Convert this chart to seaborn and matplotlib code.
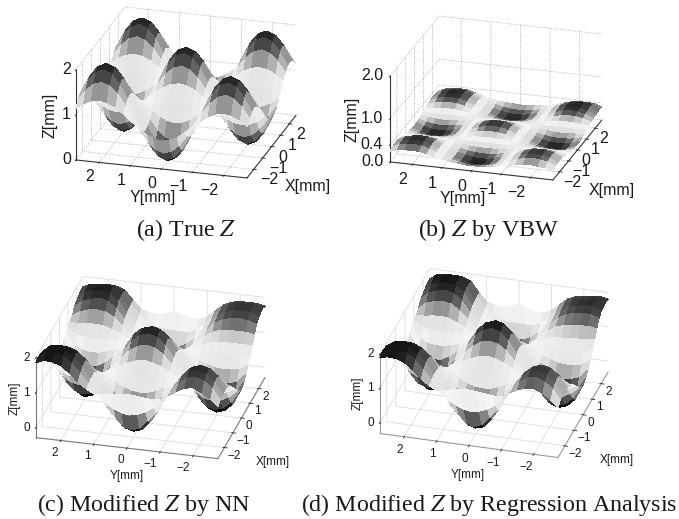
import numpy as np
import matplotlib
matplotlib.use('Agg')
import matplotlib.pyplot as plt
import seaborn as sns
from matplotlib.colors import Normalize
from matplotlib.ticker import NullFormatter
from matplotlib.transforms import offset_copy

sns.set_style('white')
plt.rcParams['font.family'] = ['Liberation Sans', 'DejaVu Sans']
plt.rcParams['mathtext.fontset'] = 'stix'

# grid positions [mm]
grid_mm = [-2.75, -2.5, -2.25, -2, -1.75, -1.5, -1.25, -1, -0.75, -0.5, -0.25, 0,
           0.25, 0.5, 0.75, 1, 1.25, 1.5, 1.75, 2, 2.25, 2.5, 2.75]
axis_ticks = [-2, -1, 0, 1, 2]

# heights, rows follow X, columns follow Y
z_true = [
[1.14,1.27,1.35,1.38,1.35,1.27,1.14,1,.86,.73,.65,.62,.65,.73,.86,1,1.14,1.27,1.35,1.38,1.35,1.27,1.14],
[1.27,1.5,1.65,1.71,1.65,1.5,1.27,1,.73,.5,.35,.29,.35,.5,.73,1,1.27,1.5,1.65,1.71,1.65,1.5,1.27],
[1.35,1.65,1.85,1.92,1.85,1.65,1.35,1,.65,.35,.15,.08,.15,.35,.65,1,1.35,1.65,1.85,1.92,1.85,1.65,1.35],
[1.38,1.71,1.92,2,1.92,1.71,1.38,1,.62,.29,.08,0,.08,.29,.62,1,1.38,1.71,1.92,2,1.92,1.71,1.38],
[1.35,1.65,1.85,1.92,1.85,1.65,1.35,1,.65,.35,.15,.08,.15,.35,.65,1,1.35,1.65,1.85,1.92,1.85,1.65,1.35],
[1.27,1.5,1.65,1.71,1.65,1.5,1.27,1,.73,.5,.35,.29,.35,.5,.73,1,1.27,1.5,1.65,1.71,1.65,1.5,1.27],
[1.14,1.27,1.35,1.38,1.35,1.27,1.14,1,.86,.73,.65,.62,.65,.73,.86,1,1.14,1.27,1.35,1.38,1.35,1.27,1.14],
[1,1,1,1,1,1,1,1,1,1,1,1,1,1,1,1,1,1,1,1,1,1,1],
[.86,.73,.65,.62,.65,.73,.86,1,1.14,1.27,1.35,1.38,1.35,1.27,1.14,1,.86,.73,.65,.62,.65,.73,.86],
[.73,.5,.35,.29,.35,.5,.73,1,1.27,1.5,1.65,1.71,1.65,1.5,1.27,1,.73,.5,.35,.29,.35,.5,.73],
[.65,.35,.15,.08,.15,.35,.65,1,1.35,1.65,1.85,1.92,1.85,1.65,1.35,1,.65,.35,.15,.08,.15,.35,.65],
[.62,.29,.08,0,.08,.29,.62,1,1.38,1.71,1.92,2,1.92,1.71,1.38,1,.62,.29,.08,0,.08,.29,.62],
[.65,.35,.15,.08,.15,.35,.65,1,1.35,1.65,1.85,1.92,1.85,1.65,1.35,1,.65,.35,.15,.08,.15,.35,.65],
[.73,.5,.35,.29,.35,.5,.73,1,1.27,1.5,1.65,1.71,1.65,1.5,1.27,1,.73,.5,.35,.29,.35,.5,.73],
[.86,.73,.65,.62,.65,.73,.86,1,1.14,1.27,1.35,1.38,1.35,1.27,1.14,1,.86,.73,.65,.62,.65,.73,.86],
[1,1,1,1,1,1,1,1,1,1,1,1,1,1,1,1,1,1,1,1,1,1,1],
[1.14,1.27,1.35,1.38,1.35,1.27,1.14,1,.86,.73,.65,.62,.65,.73,.86,1,1.14,1.27,1.35,1.38,1.35,1.27,1.14],
[1.27,1.5,1.65,1.71,1.65,1.5,1.27,1,.73,.5,.35,.29,.35,.5,.73,1,1.27,1.5,1.65,1.71,1.65,1.5,1.27],
[1.35,1.65,1.85,1.92,1.85,1.65,1.35,1,.65,.35,.15,.08,.15,.35,.65,1,1.35,1.65,1.85,1.92,1.85,1.65,1.35],
[1.38,1.71,1.92,2,1.92,1.71,1.38,1,.62,.29,.08,0,.08,.29,.62,1,1.38,1.71,1.92,2,1.92,1.71,1.38],
[1.35,1.65,1.85,1.92,1.85,1.65,1.35,1,.65,.35,.15,.08,.15,.35,.65,1,1.35,1.65,1.85,1.92,1.85,1.65,1.35],
[1.27,1.5,1.65,1.71,1.65,1.5,1.27,1,.73,.5,.35,.29,.35,.5,.73,1,1.27,1.5,1.65,1.71,1.65,1.5,1.27],
[1.14,1.27,1.35,1.38,1.35,1.27,1.14,1,.86,.73,.65,.62,.65,.73,.86,1,1.14,1.27,1.35,1.38,1.35,1.27,1.14],
]
z_vbw = [
[.22,.26,.28,.30,.29,.26,.23,.20,.17,.15,.13,.12,.13,.15,.17,.20,.24,.28,.32,.33,.32,.30,.25],
[.26,.33,.36,.38,.36,.32,.26,.20,.14,.10,.07,.06,.07,.10,.14,.20,.27,.33,.38,.40,.39,.36,.28],
[.27,.35,.40,.41,.39,.34,.27,.20,.12,.07,.03,.02,.03,.07,.12,.20,.28,.35,.41,.43,.41,.37,.29],
[.28,.36,.41,.42,.40,.34,.27,.20,.12,.06,.02,.01,.02,.06,.12,.20,.28,.35,.41,.43,.42,.38,.30],
[.27,.34,.39,.40,.38,.33,.26,.20,.13,.08,.04,.03,.04,.08,.13,.20,.27,.34,.39,.41,.39,.36,.28],
[.24,.30,.33,.34,.33,.30,.25,.20,.15,.11,.09,.08,.09,.11,.15,.20,.25,.30,.33,.34,.33,.30,.24],
[.22,.24,.26,.27,.26,.24,.22,.20,.18,.16,.15,.14,.15,.16,.18,.20,.22,.24,.26,.27,.26,.24,.22],
[.20,.20,.20,.20,.20,.20,.20,.20,.20,.20,.20,.20,.20,.20,.20,.20,.20,.20,.20,.20,.20,.20,.20],
[.18,.16,.14,.14,.15,.16,.18,.20,.22,.25,.26,.27,.26,.25,.22,.20,.18,.16,.15,.14,.15,.16,.18],
[.16,.10,.08,.08,.09,.11,.16,.20,.25,.30,.33,.34,.33,.30,.25,.20,.15,.11,.09,.08,.09,.11,.16],
[.14,.07,.03,.03,.04,.08,.14,.20,.27,.34,.39,.40,.39,.34,.27,.20,.13,.08,.04,.03,.04,.08,.15],
[.13,.06,.02,.01,.02,.07,.13,.20,.28,.36,.41,.42,.41,.36,.28,.20,.13,.06,.02,.01,.02,.06,.14],
[.14,.08,.04,.03,.04,.08,.14,.20,.27,.34,.39,.40,.39,.34,.27,.20,.13,.08,.04,.03,.04,.08,.15],
[.16,.11,.09,.08,.09,.11,.15,.20,.25,.30,.33,.34,.33,.30,.25,.20,.15,.11,.09,.08,.09,.12,.17],
[.18,.16,.15,.14,.15,.16,.18,.20,.23,.25,.26,.27,.26,.25,.23,.20,.18,.16,.15,.14,.15,.17,.19],
[.21,.20,.20,.20,.20,.20,.20,.20,.20,.20,.20,.20,.20,.20,.20,.20,.20,.20,.20,.20,.20,.20,.21],
[.23,.26,.27,.28,.27,.25,.22,.20,.17,.16,.15,.14,.15,.16,.17,.20,.22,.25,.27,.28,.27,.26,.23],
[.27,.32,.35,.36,.34,.30,.25,.20,.15,.11,.09,.08,.09,.11,.15,.20,.25,.31,.35,.36,.35,.32,.26],
[.29,.36,.40,.41,.39,.33,.26,.20,.13,.08,.04,.03,.04,.08,.13,.20,.27,.34,.40,.41,.40,.36,.28],
[.30,.38,.42,.43,.41,.35,.27,.20,.12,.06,.02,.01,.02,.06,.12,.20,.28,.35,.41,.43,.42,.38,.30],
[.31,.39,.43,.43,.41,.35,.28,.21,.13,.08,.05,.04,.05,.08,.13,.21,.28,.35,.41,.43,.42,.38,.29],
[.32,.40,.42,.42,.40,.33,.27,.21,.15,.11,.09,.08,.09,.11,.15,.21,.27,.33,.40,.41,.40,.38,.28],
[.30,.36,.37,.37,.35,.30,.25,.21,.18,.16,.15,.14,.15,.16,.18,.21,.25,.30,.35,.36,.35,.33,.26],
]
z_nn = [
[1.20,1.40,1.55,1.65,1.62,1.50,1.35,1.20,1.18,1.20,1.23,1.25,1.23,1.20,1.15,1.15,1.28,1.45,1.68,1.85,1.93,1.95,1.85],
[1.30,1.60,1.77,1.85,1.80,1.60,1.33,1.05,.85,.70,.60,.55,.60,.70,.85,1.05,1.33,1.60,1.85,2.00,2.05,2.05,1.90],
[1.33,1.66,1.85,1.92,1.86,1.64,1.33,1.02,.60,.35,.10,.02,.10,.35,.60,1.02,1.36,1.67,1.90,2.03,2.06,2.05,1.88],
[1.35,1.70,1.88,1.95,1.88,1.65,1.33,1.00,.55,.20,-.05,-.12,-.05,.20,.55,1.00,1.37,1.70,1.93,2.05,2.06,2.05,1.85],
[1.33,1.62,1.80,1.87,1.80,1.60,1.30,1.00,.60,.28,.08,.02,.08,.28,.60,1.00,1.35,1.65,1.85,1.95,1.97,1.95,1.78],
[1.25,1.45,1.56,1.60,1.56,1.45,1.22,1.00,.72,.50,.35,.30,.35,.50,.72,1.00,1.25,1.50,1.65,1.70,1.72,1.70,1.50],
[1.13,1.22,1.28,1.30,1.28,1.22,1.11,1.00,.87,.75,.67,.65,.67,.75,.87,1.00,1.13,1.25,1.35,1.38,1.38,1.36,1.30],
[1.00,1.00,1.00,1.00,1.00,1.00,1.00,1.00,1.00,1.00,1.03,1.05,1.03,1.00,1.00,1.00,1.00,1.00,1.02,1.05,1.05,1.05,1.10],
[.85,.75,.68,.65,.68,.76,.88,1.00,1.13,1.25,1.33,1.38,1.33,1.25,1.13,1.00,.87,.77,.70,.68,.70,.78,.95],
[.70,.50,.38,.35,.38,.55,.78,1.00,1.25,1.50,1.65,1.70,1.65,1.50,1.25,1.00,.78,.55,.38,.35,.40,.55,.80],
[.60,.25,.05,-.02,.05,.30,.65,1.00,1.33,1.65,1.85,1.92,1.85,1.65,1.33,1.00,.65,.30,.05,-.02,.08,.30,.72],
[.55,.10,-.12,-.20,-.12,.15,.60,1.00,1.38,1.75,1.95,2.00,1.95,1.75,1.38,1.00,.60,.15,-.12,-.20,-.05,.15,.70],
[.62,.25,.06,0,.08,.32,.66,1.00,1.34,1.65,1.85,1.92,1.85,1.65,1.34,1.00,.68,.35,.10,.02,.10,.35,.85],
[.75,.50,.42,.40,.42,.60,.80,1.00,1.25,1.50,1.65,1.70,1.65,1.50,1.25,1.00,.80,.60,.47,.45,.50,.70,1.10],
[.90,.76,.71,.70,.72,.80,.90,1.00,1.14,1.26,1.35,1.38,1.35,1.26,1.14,1.00,.90,.82,.75,.75,.78,.90,1.20],
[1.05,1.00,1.00,1.00,1.00,1.00,1.00,1.00,1.02,1.05,1.05,1.05,1.05,1.00,1.00,1.00,1.02,1.05,1.05,1.05,1.05,1.10,1.25],
[1.25,1.25,1.25,1.25,1.22,1.20,1.12,1.02,.90,.85,.80,.80,.80,.85,.90,1.02,1.15,1.25,1.33,1.35,1.33,1.30,1.32],
[1.45,1.50,1.50,1.50,1.48,1.40,1.25,1.05,.85,.70,.58,.55,.58,.70,.85,1.05,1.28,1.50,1.62,1.65,1.62,1.55,1.40],
[1.65,1.72,1.75,1.73,1.68,1.55,1.32,1.05,.75,.52,.38,.33,.38,.55,.78,1.08,1.38,1.65,1.82,1.88,1.82,1.75,1.55],
[1.75,1.85,1.87,1.85,1.78,1.60,1.35,1.05,.70,.40,.22,.15,.25,.50,.78,1.10,1.45,1.75,1.93,1.98,1.95,1.90,1.60],
[1.78,1.86,1.88,1.86,1.80,1.63,1.35,1.10,.80,.62,.52,.50,.55,.70,.90,1.15,1.48,1.78,1.95,1.98,1.95,1.90,1.65],
[1.80,1.85,1.86,1.85,1.80,1.65,1.40,1.15,.95,.85,.85,.85,.87,.90,1.03,1.20,1.50,1.80,1.93,1.95,1.93,1.90,1.70],
[1.75,1.80,1.80,1.80,1.75,1.65,1.45,1.25,1.15,1.15,1.22,1.30,1.22,1.15,1.18,1.25,1.50,1.75,1.83,1.85,1.83,1.80,1.70],
]
z_reg = [
[1.15,1.35,1.50,1.60,1.58,1.50,1.38,1.25,1.22,1.25,1.28,1.30,1.28,1.25,1.18,1.15,1.28,1.45,1.68,1.85,1.93,1.95,1.90],
[1.25,1.55,1.72,1.80,1.76,1.60,1.33,1.05,.85,.70,.60,.55,.60,.70,.85,1.05,1.33,1.60,1.85,2.00,2.05,2.05,1.95],
[1.28,1.61,1.80,1.87,1.82,1.64,1.33,1.02,.60,.35,.10,.00,.10,.35,.60,1.02,1.36,1.67,1.90,2.03,2.06,2.05,1.92],
[1.30,1.65,1.83,1.90,1.84,1.65,1.33,1.00,.55,.20,-.08,-.15,-.08,.20,.55,1.00,1.37,1.70,1.93,2.05,2.06,2.05,1.90],
[1.28,1.58,1.76,1.82,1.76,1.58,1.30,1.00,.60,.28,.06,.00,.06,.28,.60,1.00,1.35,1.65,1.85,1.95,1.97,1.95,1.82],
[1.20,1.40,1.52,1.55,1.52,1.44,1.22,1.00,.72,.50,.35,.30,.35,.50,.72,1.00,1.25,1.50,1.65,1.70,1.72,1.70,1.55],
[1.10,1.20,1.26,1.28,1.26,1.21,1.11,1.00,.87,.75,.67,.65,.67,.75,.87,1.00,1.13,1.25,1.35,1.38,1.38,1.36,1.32],
[1.00,1.00,1.00,1.00,1.00,1.00,1.00,1.00,1.00,1.00,1.03,1.05,1.03,1.00,1.00,1.00,1.00,1.00,1.02,1.05,1.05,1.05,1.10],
[.85,.75,.68,.65,.68,.76,.88,1.00,1.13,1.25,1.33,1.38,1.33,1.25,1.13,1.00,.87,.77,.70,.68,.70,.78,.95],
[.70,.50,.38,.35,.38,.55,.78,1.00,1.25,1.50,1.65,1.70,1.65,1.50,1.25,1.00,.78,.55,.38,.35,.40,.55,.80],
[.60,.25,.05,-.02,.05,.30,.65,1.00,1.33,1.67,1.88,1.96,1.88,1.67,1.33,1.00,.65,.30,.05,-.02,.08,.30,.72],
[.55,.10,-.12,-.20,-.12,.15,.60,1.00,1.38,1.75,1.98,2.05,1.98,1.75,1.38,1.00,.60,.15,-.12,-.20,-.05,.15,.70],
[.62,.25,.06,0,.08,.32,.66,1.00,1.34,1.67,1.88,1.96,1.88,1.67,1.34,1.00,.68,.35,.10,.02,.10,.35,.85],
[.75,.50,.42,.40,.42,.60,.80,1.00,1.25,1.50,1.65,1.70,1.65,1.50,1.25,1.00,.80,.60,.47,.45,.50,.70,1.10],
[.92,.76,.71,.70,.72,.80,.90,1.00,1.14,1.26,1.35,1.38,1.35,1.26,1.14,1.00,.90,.82,.75,.75,.78,.90,1.20],
[1.10,1.00,1.00,1.00,1.00,1.00,1.00,1.00,1.02,1.05,1.05,1.05,1.05,1.00,1.00,1.00,1.02,1.05,1.05,1.05,1.05,1.10,1.25],
[1.30,1.28,1.26,1.25,1.22,1.20,1.12,1.02,.90,.85,.80,.80,.80,.85,.90,1.02,1.15,1.25,1.35,1.38,1.36,1.32,1.32],
[1.50,1.55,1.53,1.50,1.48,1.40,1.25,1.05,.85,.70,.58,.55,.58,.70,.85,1.05,1.28,1.50,1.66,1.70,1.66,1.60,1.40],
[1.70,1.77,1.78,1.75,1.68,1.55,1.32,1.05,.75,.52,.38,.33,.38,.55,.78,1.08,1.38,1.68,1.85,1.92,1.86,1.78,1.55],
[1.80,1.90,1.90,1.85,1.78,1.60,1.35,1.05,.70,.40,.22,.15,.25,.50,.78,1.10,1.45,1.80,1.96,2.00,1.97,1.90,1.60],
[1.83,1.91,1.90,1.86,1.80,1.63,1.35,1.10,.80,.62,.52,.50,.55,.70,.90,1.15,1.48,1.83,1.98,2.02,1.99,1.95,1.65],
[1.85,1.90,1.88,1.85,1.80,1.65,1.40,1.15,.95,.85,.85,.85,.87,.90,1.03,1.20,1.50,1.85,1.97,2.00,1.98,1.95,1.70],
[1.80,1.85,1.83,1.80,1.75,1.65,1.45,1.25,1.15,1.15,1.22,1.30,1.22,1.15,1.18,1.25,1.50,1.80,1.88,1.90,1.88,1.85,1.70],
]

W, H = 679, 519
gray_map = sns.blend_palette(['#0c0c0c', '#5e5e5e', '#d4d4d4', '#f5f5f5', '#d8d8d8', '#626262', '#161616'],
                             n_colors=256, as_cmap=True)

fig = plt.figure(figsize=(W / 100, H / 100), dpi=100, facecolor='white')
X, Y = np.meshgrid(grid_mm, grid_mm, indexing='ij')


def tick_text(ax, x, y, z, s, dx, dy, ha, size):
    tr = offset_copy(ax.transData, fig=fig, x=dx, y=dy, units='dots')
    ax.text(x, y, z, s, transform=tr, ha=ha, va='center', fontsize=size, color='#1a1a1a')


def panel(z, center, edge, elev, azim, ratio, zlim, zticks, zlabels, vmax, size, grid_style, line_color, off):
    side = 300
    left = center[0] - 0.5135 * side
    bottom = H - center[1] - 0.5135 * side
    ax = fig.add_axes([left / W, bottom / H, side / W, side / H], projection='3d', proj_type='ortho')
    ax.patch.set_alpha(0)
    ax.view_init(elev=elev, azim=azim)
    zoom = edge / (side / 1.85) * np.linalg.norm([1, 1, ratio]) / (1.8294640721620434 * 25 / 24)
    ax.set_box_aspect((1, 1, ratio), zoom=zoom)
    ax.plot_surface(X, Y, np.array(z), cmap=gray_map, norm=Normalize(0, vmax),
                    rstride=1, cstride=1, linewidth=0, antialiased=False, shade=False)
    ax.set_xlim(-2.75, 2.75)
    ax.set_ylim(-2.75, 2.75)
    ax.set_zlim(*zlim)
    ax.set_xticks(axis_ticks)
    ax.set_yticks(axis_ticks)
    ax.set_zticks(zticks)
    for a in (ax.xaxis, ax.yaxis, ax.zaxis):
        a.set_major_formatter(NullFormatter())
        a.set_pane_color((1, 1, 1, 0))
        a.pane.set_edgecolor((1, 1, 1, 0))
        a.line.set_color(line_color)
        a.line.set_linewidth(0.8)
        a._axinfo['grid'].update(color=grid_style[0], linestyle=grid_style[1], linewidth=0.6)
        a._axinfo['tick'].update(color=line_color, linewidth={True: 0.6, False: 0.4})
    for t in axis_ticks:
        s = str(t).replace('-', '\u2212')
        tick_text(ax, -2.75, t, zlim[0], s, off['y'][0], off['y'][1], 'right', size)
        tick_text(ax, t, -2.75, zlim[0], s, off['x'][0], off['x'][1], 'left', size)
    for t, s in zip(zticks, zlabels):
        tick_text(ax, -2.75, 2.75, t, s, off['z'], 0, 'right', size)
    return ax


dotted = ('#a0a0a0', ':')
solid = ('#dcdcdc', '-')
panel(z_true, (186, 92.5), 178, 21.5, 196, 0.545, (0, 2), [0, 1, 2], ['0', '1', '2'], 2, 11.5, dotted, '#333333',
      {'y': (-5, -14.5), 'x': (7, -10.5), 'z': -5})
panel(z_vbw, (496, 98), 170, 21.6, 196.7, 0.544, (0, 2), [0, 0.4, 1, 2], ['0.0', '0.4', '1.0', '2.0'], 0.44, 11.5, dotted, '#333333',
      {'y': (-5, -15.5), 'x': (4, -10.5), 'z': -7})
panel(z_nn, (150.5, 367.5), 188, 26.5, 194.5, 0.476, (-0.29, 2), [0, 1, 2], ['0', '1', '2'], 2, 8.5, solid, '#777777',
      {'y': (-3, -12), 'x': (3.5, -8), 'z': -6})
panel(z_reg, (494, 363), 185, 28.7, 195.7, 0.49, (-0.32, 2), [0, 1, 2], ['0', '1', '2'], 2, 8.5, solid, '#999999',
      {'y': (-1, -13), 'x': (4, -8), 'z': -6})


def label(x, y, s, size, **kw):
    fig.text(x / W, 1 - y / H, s, fontsize=size, ha='center', va='center', color='#1a1a1a', **kw)


label(308, 187, 'X[mm]', 11.5)
label(153, 198, 'Y[mm]', 11.5)
label(50, 115, 'Z[mm]', 11.5, rotation=90)
label(612, 190, 'X[mm]', 11.5)
label(463, 199, 'Y[mm]', 11.5)
label(352, 119, 'Z[mm]', 11.5, rotation=90)
label(273, 462, 'X[mm]', 8.5)
label(127, 476, 'Y[mm]', 8.5)
label(15, 398, 'Z[mm]', 8.5, rotation=90)
label(617, 460, 'X[mm]', 8.5)
label(468, 475, 'Y[mm]', 8.5)
label(358, 393, 'Z[mm]', 8.5, rotation=90)

serif = ['Liberation Serif', 'DejaVu Serif']
label(186, 230, '(a) True $Z$', 17.3, family=serif)
label(489, 230, '(b) $Z$ by VBW', 17.3, family=serif)
label(144, 505, '(c) Modified $Z$ by NN', 17.3, family=serif)
label(489, 505, '(d) Modified $Z$ by Regression Analysis', 17.3, family=serif)

fig.savefig('out.png', dpi=100)
